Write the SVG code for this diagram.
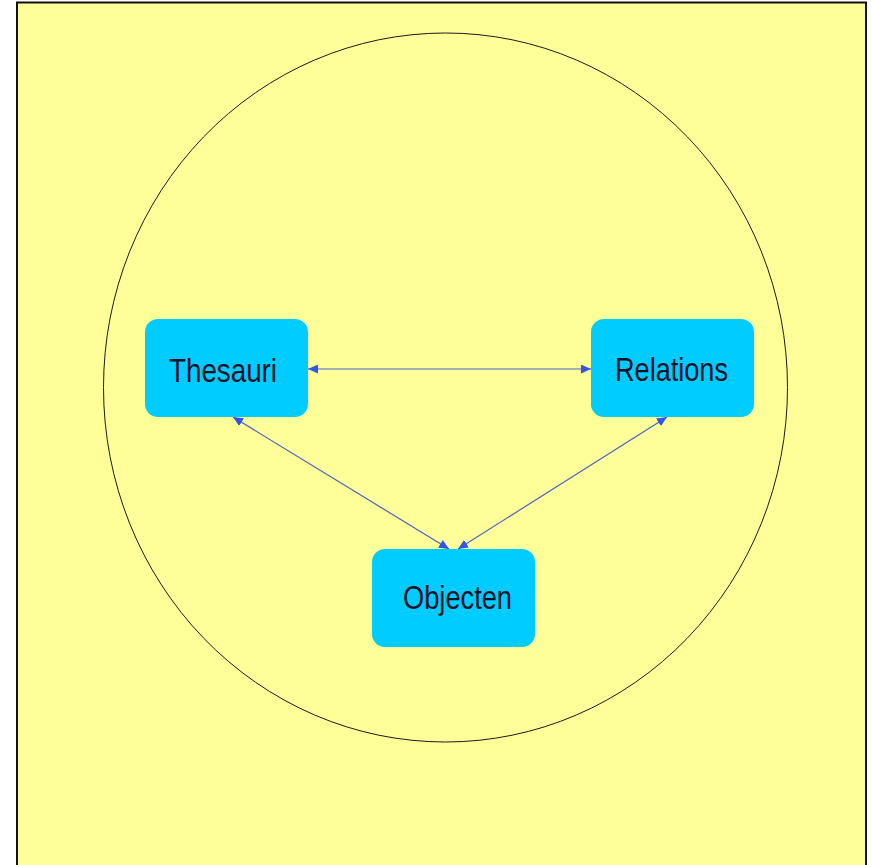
<svg xmlns="http://www.w3.org/2000/svg" width="872" height="865" viewBox="0 0 872 865">
<style>
.box{fill:#00CCFF;}
.lbl{font-family:"Liberation Sans",Arial,sans-serif;font-size:34px;fill:#10102A;text-anchor:middle;}
.con{stroke:#4A62C8;stroke-width:1.2;fill:none;marker-start:url(#ah);marker-end:url(#ah);}
</style>
<defs>
<marker id="ah" viewBox="0 0 10 9" refX="10" refY="4.5" markerWidth="10" markerHeight="9" markerUnits="userSpaceOnUse" orient="auto-start-reverse">
<path d="M0,0 L10,4.5 L0,9 Z" fill="#3355E6"/>
</marker>
</defs>
<rect x="0" y="0" width="872" height="865" fill="#FFFFFF"/>
<rect x="17" y="2.5" width="849" height="870" fill="#FFFF99" stroke="#111111" stroke-width="2"/>
<ellipse cx="445.5" cy="387.5" rx="342" ry="354.5" fill="none" stroke="#1A1A1A" stroke-width="1"/>
<g id="connectors">
<line class="con" x1="308" y1="369" x2="591" y2="369"/>
<line class="con" x1="233" y1="417" x2="449" y2="549"/>
<line class="con" x1="667" y1="417" x2="458" y2="549"/>
</g>
<g id="thesauri">
<rect class="box" x="145" y="319" width="163" height="98" rx="13"/>
<text class="lbl" x="223" y="382" textLength="108" lengthAdjust="spacingAndGlyphs">Thesauri</text>
</g>
<g id="relations">
<rect class="box" x="591" y="319" width="163" height="98" rx="13"/>
<text class="lbl" x="671.5" y="381" textLength="113" lengthAdjust="spacingAndGlyphs">Relations</text>
</g>
<g id="objecten">
<rect class="box" x="372" y="549" width="163" height="98" rx="13"/>
<text class="lbl" x="457.5" y="609" textLength="109" lengthAdjust="spacingAndGlyphs">Objecten</text>
</g>
</svg>
